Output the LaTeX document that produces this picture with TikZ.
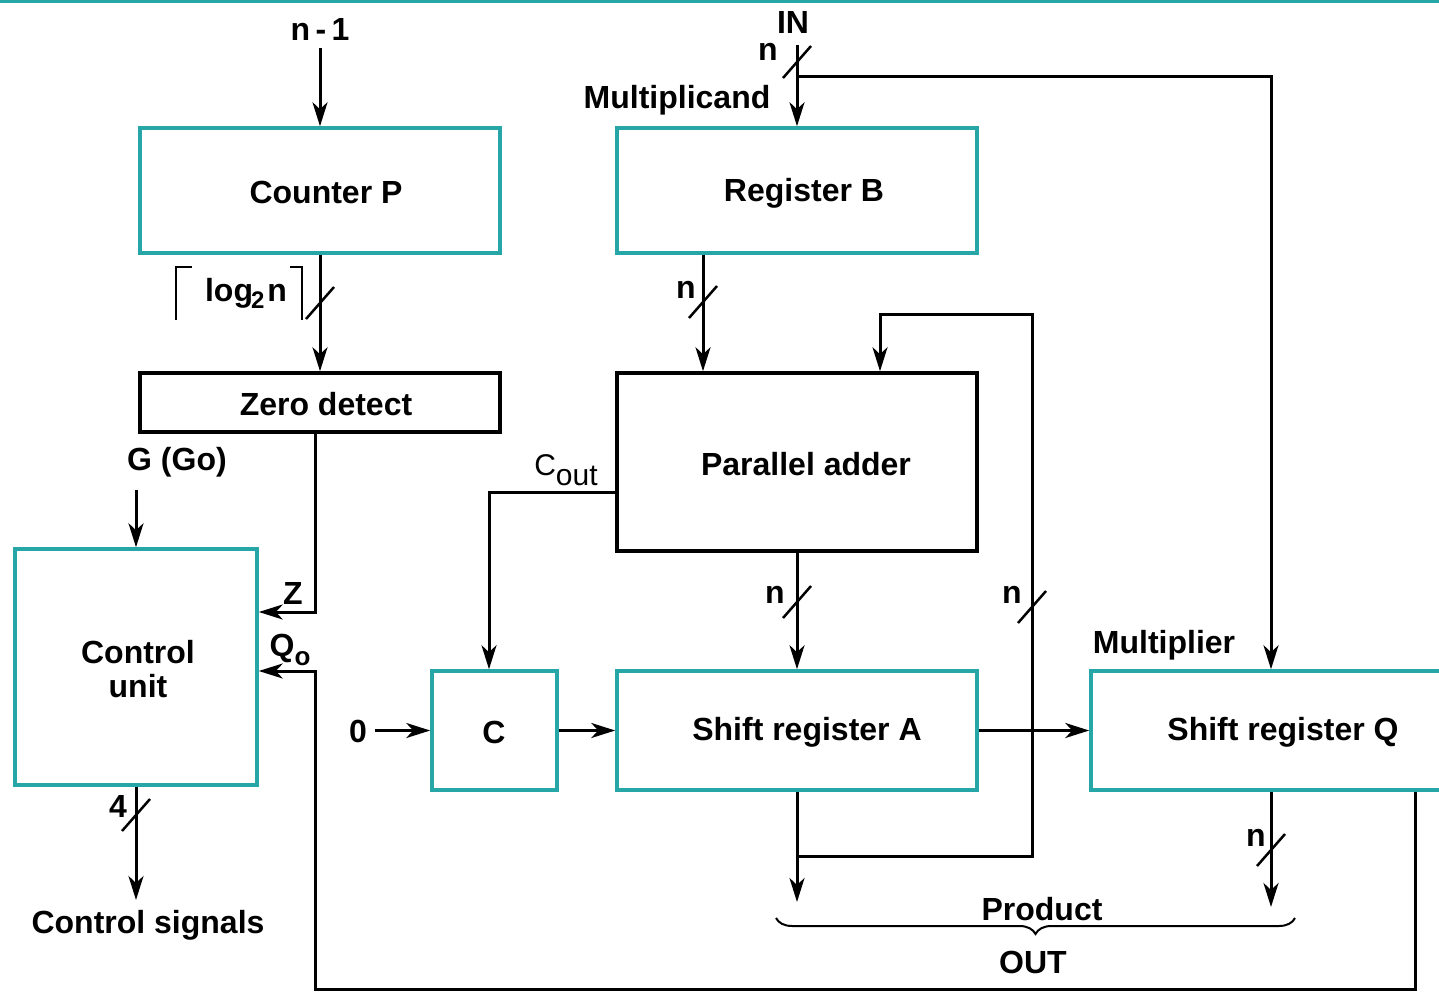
\documentclass[tikz,border=0pt]{standalone}
\usepackage{fontspec}
\setmainfont{Liberation Sans}
\usetikzlibrary{arrows.meta,decorations.pathreplacing,calc}
\definecolor{teal1}{RGB}{38,166,166}
\begin{document}
\begin{tikzpicture}[x=1pt,y=-1pt,
  lbl/.style={font=\fontsize{32}{36}\selectfont\bfseries, inner sep=0pt},
  tbox/.style={draw=teal1, line width=3.5pt, inner sep=0pt},
  bbox/.style={draw=black, line width=3.5pt, inner sep=0pt},
  conn/.style={line width=3pt, -{Stealth[length=24pt,width=15pt,inset=7pt]}},
  slashln/.style={line width=2.5pt},
  thin/.style={line width=2pt}]
\useasboundingbox (0,0) rectangle (1439,992);
\draw[teal1,line width=4pt] (0,1.5) -- (1439,1.5);

% boxes
\node[tbox, minimum width=360pt, minimum height=125pt] (CP) at (320,190.5) {};
\node[tbox, minimum width=360pt, minimum height=125pt] (RB) at (797,190.5) {};
\node[bbox, minimum width=360pt, minimum height=59pt] (ZD) at (320,402.5) {};
\node[bbox, minimum width=360pt, minimum height=178pt] (PA) at (797,462) {};
\node[tbox, minimum width=242pt, minimum height=236pt] (CU) at (136,667) {};
\node[tbox, minimum width=125pt, minimum height=119pt] (C) at (494.5,730.5) {};
\node[tbox, minimum width=360pt, minimum height=119pt] (A) at (797,730.5) {};
\node[tbox, minimum width=384pt, minimum height=119pt] (Q) at (1283,730.5) {};

% box texts
\node[lbl] (CPt) at (326,192) {Counter P};
\node[lbl] (RBt) at (804,193) {Register B};
\node[lbl] (ZDt) at (326,404) {Zero detect};
\node[lbl] (PAt) at (806,464) {Parallel adder};
\node[lbl, align=center] (CUt) at (138,669) {Control\\[-2pt]unit};
\node[lbl] (Ct) at (494,732) {C};
\node[lbl] (At) at (807,732) {Shift register A};
\node[lbl] (Qt) at (1283,732) {Shift register Q};

% labels
\node[lbl] (nm1) at (320,29) {n\,-\,1};
\node[lbl] (in) at (793,22) {IN};
\node[lbl] (nin) at (768,52) {n};
\node[lbl] (mcand) at (677,100) {Multiplicand};
\node[lbl] (log) at (246,293) {log\kern-2pt\raisebox{-7pt}{\fontsize{24}{24}\selectfont 2}\kern3pt n};
\node[lbl] (nrb) at (686,290) {n};
\node[lbl] (gg) at (177,462) {G (Go)};
\node[font=\fontsize{30}{32}\selectfont, inner sep=0pt] (cout) at (566,470) {C\raisebox{-10pt}{out}};
\node[lbl] (zl) at (293,593) {Z};
\node[lbl] (q0l) at (290,650) {Q\raisebox{-9pt}{\fontsize{26}{26}\selectfont o}};
\node[lbl] (npa) at (775,595) {n};
\node[lbl] (nfb) at (1012,595) {n};
\node[lbl] (mplier) at (1164,645) {Multiplier};
\node[lbl] (zero) at (358,731) {0};
\node[lbl] (four) at (118,806) {4};
\node[lbl] (nq) at (1256,838) {n};
\node[lbl] (csig) at (148,925) {Control signals};
\node[lbl] (prod) at (1042,909) {Product};
\node[lbl] (out) at (1033,962) {OUT};

% ceiling brackets
\draw[thin] (176,320) -- (176,267) -- (192,267);
\draw[thin] (290,267) -- (302,267) -- (302,320);

% coordinates
\coordinate (nm1s) at (320,48);
\coordinate (ins) at (797,45);
\coordinate (br1) at (797,77);
\coordinate (qin) at (1271,77);
\coordinate (zturn) at (315,612);
\coordinate (gs) at (136,490);
\coordinate (rbx) at (703,0);
\coordinate (co) at (489,492);
\coordinate (aout) at (797,902);
\coordinate (fb1) at (797,856);
\coordinate (fb2) at (1032,856);
\coordinate (fb3) at (1032,314);
\coordinate (fb4) at (880,314);
\coordinate (qout) at (1271,907);
\coordinate (q0a) at (1415,989);
\coordinate (q0b) at (315,989);
\coordinate (q0c) at (315,671);
\coordinate (cs) at (136,900);

% connectors
\draw[conn] (nm1s) -- (CP.north);
\draw[conn] (ins) -- (RB.north);
\draw[conn] (br1) -- (qin) -- (qin |- Q.north);
\draw[conn] (CP.south) -- (ZD.north);
\draw[conn] (zturn |- ZD.south) -- (zturn) -- (zturn -| CU.east);
\draw[conn] (gs) -- (CU.north);
\draw[conn] (rbx |- RB.south) -- (rbx |- PA.north);
\draw[conn] (PA.south) -- (A.north);
\draw[conn] (co -| PA.west) -- (co) -- (co |- C.north);
\draw[conn, shorten <=8pt] (zero.east |- C.west) -- (C.west);
\draw[conn] (C.east) -- (A.west);
\draw[conn] (A.east) -- (Q.west);
\draw[conn] (A.south) -- (aout);
\draw[conn] (fb1) -- (fb2) -- (fb3) -- (fb4) -- (fb4 |- PA.north);
\draw[conn] (qout |- Q.south) -- (qout);
\draw[conn] (q0a |- Q.south) -- (q0a) -- (q0b) -- (q0c) -- (q0c -| CU.east);
\draw[conn] (CU.south) -- (cs);

% bus slashes
\foreach \p in {(797,62),(320,303),(703,302),(797,602),(1032,607),(1271,850),(136,815)}{
  \draw[slashln] \p ++(-14,16) -- ++(28,-32);
}

% brace
\draw[thin, decorate, decoration={brace,mirror,amplitude=16pt}] (776,918) -- (1295,918);
\end{tikzpicture}
\end{document}
